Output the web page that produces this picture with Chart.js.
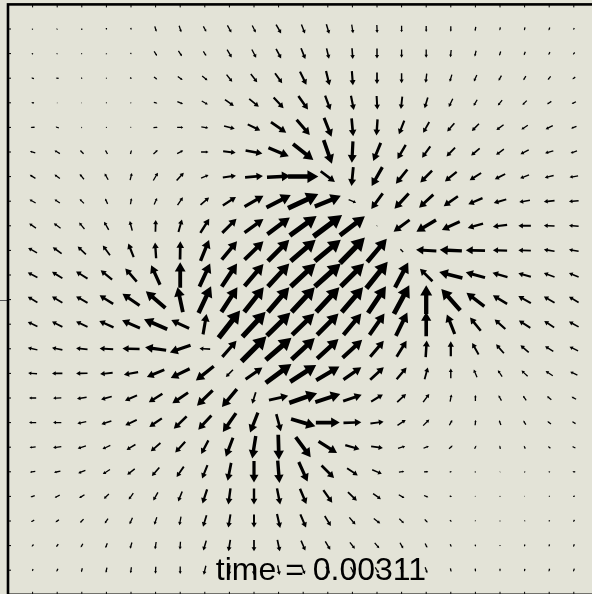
<!DOCTYPE html>
<html>
<head>
<meta charset="utf-8">
<script src="https://cdn.jsdelivr.net/npm/chart.js@4"></script>
<style>
  html, body { margin: 0; padding: 0; overflow: hidden; background: #e3e3d7; }
  #wrap { width: 600px; height: 600px; }
</style>
</head>
<body>
<div id="wrap"><canvas id="quiver" width="600" height="600"></canvas></div>
<script>
// grid positions (columns left->right, rows top->bottom)
const gridX = [0,1,2,3,4,5,6,7,8,9,10,11,12,13,14,15,16,17,18,19,20,21,22];
const gridY = [22,21,20,19,18,17,16,15,14,13,12,11,10,9,8,7,6,5,4,3,2,1,0];

// horizontal component, one row per grid row (top row first)
const U = [
  [1,1,0.3,0,0.3,1.5,2,2.7,3.7,3.3,4.7,3.3,2.7,1.3,0.3,0,0,0,-0.7,-0.7,-0.7,-1,-1],
  [1.3,1,1,0,1,2.7,3.3,2.7,4.3,4,4.7,4,2.3,0.7,0,0,0,-0.7,-1.3,-1.3,-1.3,-1.3,-1.7],
  [-2.5,-2.7,1.5,0.3,1.7,3,4.5,5,5.3,6,6.7,6,3.3,1,0,0,-1,-2,-2.7,-2.7,-2.3,-2.7,-2.7],
  [-2.7,0.5,0.5,0.3,1,3.3,5.3,5.7,8.3,9,9.3,9,5,2.7,0.7,-1.3,-3,-3.7,-3.3,-4,-4,-4,-4],
  [-3.7,-3,1,0.3,1,4,5.7,6.5,10,11.7,14.3,12.3,7,1.5,-1,-5,-5.7,-6.7,-6.7,-6.7,-6,-6.7,-5],
  [-5,-5,-3.3,-2,1,4,5.7,7,11.7,15.7,19,19,7.7,-1,-7,-7.7,-7.7,-8,-8,-7.3,-7.7,-7.7,-6],
  [-5.3,-5,-4,-3.3,1.7,4.3,6.7,7,12.3,16.7,21.7,28.3,13.3,-1.7,-10,-10.7,-11,-11,-10.7,-9.7,-8.3,-8.3,-8],
  [-5.7,-5,-4,-2.3,1,2.7,5,8,12.3,17.7,22.7,28.3,24.3,7,-10.7,-13.3,-13.3,-13.3,-13.3,-11.7,-10,-10,-9],
  [-6.3,-6.3,-5,-4.3,-2.3,0.3,3.3,8.3,13.3,17.7,21,25,26.7,23.3,0.5,-15,-18.3,-16.7,-14.3,-13.3,-11.7,-10,-9],
  [-8.3,-8.3,-7.7,-6.7,-5,-1,0.3,8,14.3,17.7,20,23.3,24.3,23.3,18.3,-3,-19,-20.7,-18,-13.3,-11.7,-10,-9],
  [-9,-9.7,-10.7,-10.7,-10.7,-8.3,0,10,14.3,17.7,20,23.3,24.3,21.7,20,12.3,-11.7,-21.7,-18,-14,-11.7,-10,-9],
  [-9,-9.7,-10.7,-12.7,-16,-18.3,-5,11.7,15,18.3,20,21.7,21.7,20,16.7,14.3,0,-17.7,-16.7,-13.3,-11.7,-10,-9],
  [-9,-9.7,-10.7,-13.3,-16.7,-21.7,-16.7,3.3,20,21.7,22,20.7,20,16.7,14,10.7,0,-7.3,-10,-10,-10.7,-9.3,-9],
  [-9,-9.7,-10.7,-12.7,-16,-19.7,-19.3,-10,13.3,23.3,24,21.7,20,18.3,12.7,9.3,1,0,-6,-7.3,-7.7,-7.7,-8],
  [-8.3,-9.7,-10.7,-11.7,-13.3,-16.3,-17.7,-16.7,-6.7,15.7,24,24.3,21.7,16.7,12.7,9.3,3,0,-3,-4,-5.7,-6.7,-6.7],
  [-6.7,-7.7,-9,-10,-11.3,-12.7,-14.7,-14.7,-14,-3.3,18,26,23.3,17.3,11,8.3,5.7,1.3,0,-2.7,-3,-4,-4.3],
  [-6.7,-7.7,-8.3,-9.3,-10.7,-11.7,-12,-12.3,-12.3,-7.3,4.3,22.7,22.3,16.7,12.3,7.7,5.7,2.7,0.5,-1.7,-2.3,-3.3,-3.3],
  [-5.7,-7.7,-7.7,-7.3,-8.3,-9,-9.3,-6.7,-6.7,-3.3,0.7,14,17.3,13.3,11,6.7,5,3.3,1.5,-0.7,-1.3,-2.3,-3],
  [-5,-6,-6.7,-6.7,-7,-7,-6.7,-5,-3.3,0,1.7,8.3,11.7,10,9,5,4,2,1,0.3,-0.7,-1.3,-2.7],
  [-4,-4.7,-5,-4.7,-4.3,-4.3,-3.7,-4.3,-2,0,3,6,8.3,8.3,7.3,5.3,4,2,0.5,0.3,-0.5,-1,-1.7],
  [-3,-3.3,-3.3,-3,-2.7,-2.3,-1.5,-3.3,-2,0,3,5.3,5.7,5.7,6,4.3,2.7,1.5,0.3,0,-0.5,-0.7,-1.3],
  [-1.7,-2,-2,-1.7,-1.7,-1,-0.5,-2.7,-1.7,0,2.3,4,4.7,4.7,4.3,3,2,1,0.3,0,-0.5,-0.5,-1],
  [-1,-1.3,-1,-1,-0.7,-0.3,0,-2,-1,0,1.7,3.3,3.7,3.3,3.3,2.5,2,0.7,0.3,0,-0.5,-0.7,-1]
];

// vertical component (up is positive), same layout
const V = [
  [1,0.7,1.7,-1.7,-2,-5,-6,-5,-6.7,-6.7,-8.3,-8.3,-9,-8,-7.3,-6,-5.7,-5,-4,-3,-3,-2.7,-1.7],
  [1,0.7,0.5,1.3,-1,-4.3,-5,-4.3,-7.3,-7.7,-9,-10,-9.7,-10,-9.3,-7.7,-7.7,-6.7,-5.3,-4,-3.3,-2.7,-2],
  [0.7,0.5,0,0,-1,-2.3,-3.3,-4,-6.7,-7.7,-9.3,-12.3,-13.3,-13.3,-10.7,-9.3,-8.7,-6.7,-6,-4.7,-4,-3.3,-2],
  [0.3,0,0,0,0,-0.7,-2.3,-3.3,-6,-7.3,-10,-12.7,-13.3,-13.3,-12.7,-11.7,-10,-7.7,-5.7,-5,-4,-2.7,-2],
  [-0.3,1,0.3,0,0,0.3,0,-1,-2.7,-5.7,-10,-14.3,-17.7,-16.7,-15,-12.7,-10,-7.7,-6.7,-5,-4,-3.3,-2],
  [1.5,3,3.3,3.7,3.7,3.7,3,0,-1.3,-3,-8,-15,-22,-20,-17,-13.3,-10.7,-8.3,-6.7,-5.3,-4,-2.3,-2],
  [3.3,3.7,5,6,6.7,7.3,7.3,3,1.7,1.3,1,0,-10,-17.7,-17.7,-13.3,-11,-9,-6.7,-5,-3.3,-2,-1.3],
  [3.3,3.3,4,5,5.7,6,7.3,7,8,10,11.7,13.3,10,-3,-14.7,-14.3,-12.3,-9.3,-5.7,-3.5,-1.7,-1,-0.7],
  [4.3,4.7,6,7.7,9,11,11.7,13.3,13.3,12.7,15.7,18.3,20,17.7,0.5,-11,-11,-7.7,-4,-1.7,0,0.5,0.7],
  [4.7,6,7.3,9,12.7,14.7,17,19.5,17.3,17.3,20,20,20,24,21.7,3,1,1,0.5,0.3,0.5,1.7,1.5],
  [4.7,6,6.7,8.7,12.3,18.3,24,21.7,21.7,20.7,21.7,21.7,21.7,21.7,25,23.3,11.7,5.7,5,4,3.3,3.7,3.7],
  [5.3,6,6,8,11,15.7,23.3,25,23.3,23.3,23.3,23.3,23.3,23.3,25,26.7,26.7,20,12.7,8,6.7,6,5.3],
  [4.3,5,5,6,7.3,9.3,7.7,19,25.7,23.3,21.7,20,20,20,20,21.7,22.7,18.3,12.3,9,6.7,6,5],
  [2,2,1,0.7,0.5,2.7,-6.7,0.7,15,23.3,20.7,20,18.3,16.7,15,15,15.7,14,10.7,8.3,6.7,5,4],
  [0.7,0,-0.3,-1.3,-2.3,-6.7,-8.7,-13.3,-6.7,11,17.7,15.7,12.7,11.7,11.7,11,11,9,7.3,6,5.3,4.3,3.3],
  [0,-0.3,-1.3,-2.7,-5,-8,-10,-14.3,-16.7,-10.7,4,9,7.7,6,6.7,7.7,7.7,6.7,5.7,5,4.3,3.3,2.3],
  [0,0,-1.7,-3,-5,-8,-11.7,-13.3,-17.7,-18.7,-16,-6.7,0,0.5,1.5,5,5.7,5,5,4.3,3.7,2.7,2],
  [-0.5,-1,-2.3,-3.5,-5,-7.7,-10,-12.7,-17.7,-21,-23.3,-19,-10.7,-4,-1.7,2,2,3,3,3,2.7,2,1.5],
  [-0.7,-1.3,-2.7,-4.3,-5.5,-8,-9.7,-12.3,-16.7,-20,-21,-18.3,-11.7,-6.7,-3.7,0.5,0.3,0.5,1,0.5,1,1,0.3],
  [-1.3,-2.3,-3,-4.5,-6,-7.7,-9.3,-13.3,-15,-15,-15,-14.3,-11.7,-8,-5.3,-3,-1.7,-1,-0.5,0,0,-0.7,-1],
  [-1.7,-2.5,-3.5,-4.5,-6,-7,-8,-10.7,-12.3,-12.3,-13,-12.3,-9.3,-6.7,-4.7,-4.3,-3,-1.7,-1,-0.3,-1,-1.5,-2],
  [-2,-2.7,-3.5,-4.5,-5.7,-6.7,-7.3,-9.3,-10.7,-10.7,-10.7,-9.3,-7.7,-6,-5,-5.3,-4,-2.7,-2,-1.3,-2,-2.3,-2.5],
  [-2,-2.7,-3.7,-4.7,-5.5,-6.5,-7,-8.3,-9.3,-9.3,-9,-7.7,-6.7,-6,-5.3,-6,-5.5,-3.3,-3,-2.5,-2.5,-2.7,-3]
];

const timeLabel = 'time = 0.00311';
const labelPos = [7.45, -0.4];
const midTickRow = 11;            // the single outside tick on the left axis
const arrowScale = 1.07 / 24.6;   // field units -> grid units
const bgColor = '#e3e3d7';

const points = [];
gridY.forEach((y, r) => gridX.forEach((x, c) => points.push({ x, y, u: U[r][c], v: V[r][c] })));

function drawArrow(ctx, x0, y0, x1, y1) {
  const dx = x1 - x0, dy = y1 - y0;
  const L = Math.hypot(dx, dy);
  if (L < 0.4) {
    ctx.fillRect((x0 + x1) / 2 - 0.5, (y0 + y1) / 2 - 0.5, 1, 1);
    return;
  }
  const ux = dx / L, uy = dy / L, px = -uy, py = ux;
  const hl = 0.36 * L, hw = 0.21 * L, sw = Math.max(0.65, 0.075 * L);
  const nx = x1 - ux * hl, ny = y1 - uy * hl;
  ctx.beginPath();
  ctx.moveTo(x0 + px * sw, y0 + py * sw);
  ctx.lineTo(nx + px * sw, ny + py * sw);
  ctx.lineTo(nx + px * hw, ny + py * hw);
  ctx.lineTo(x1, y1);
  ctx.lineTo(nx - px * hw, ny - py * hw);
  ctx.lineTo(nx - px * sw, ny - py * sw);
  ctx.lineTo(x0 - px * sw, y0 - py * sw);
  ctx.closePath();
  ctx.fill();
}

const quiverPlugin = {
  id: 'quiver',
  beforeDraw(chart) {
    const ctx = chart.ctx;
    ctx.save();
    ctx.fillStyle = bgColor;
    ctx.fillRect(0, 0, chart.width, chart.height);
    ctx.restore();
  },
  afterDatasetsDraw(chart) {
    const ctx = chart.ctx, xs = chart.scales.x, ys = chart.scales.y, area = chart.chartArea;
    ctx.save();
    ctx.fillStyle = '#000';
    points.forEach(p => {
      const hx = p.u * arrowScale / 2, hy = p.v * arrowScale / 2;
      drawArrow(ctx,
        xs.getPixelForValue(p.x - hx), ys.getPixelForValue(p.y - hy),
        xs.getPixelForValue(p.x + hx), ys.getPixelForValue(p.y + hy));
    });

    // frame and small inward ticks
    ctx.strokeStyle = '#000';
    ctx.lineWidth = 1;
    ctx.beginPath();
    gridX.forEach(x => {
      const px = xs.getPixelForValue(x);
      ctx.moveTo(px, area.top); ctx.lineTo(px, area.top + 3);
      ctx.moveTo(px, area.bottom); ctx.lineTo(px, area.bottom - 3);
    });
    gridY.forEach(y => {
      const py = ys.getPixelForValue(y);
      ctx.moveTo(area.left, py); ctx.lineTo(area.left + 3, py);
    });
    ctx.stroke();

    ctx.strokeStyle = '#555';
    ctx.beginPath();
    const my = Math.round(ys.getPixelForValue(gridY[midTickRow])) + 0.5;
    ctx.moveTo(0, my); ctx.lineTo(area.left, my);
    ctx.stroke();

    ctx.strokeStyle = '#000';
    ctx.lineWidth = 2.6;
    ctx.strokeRect(area.left, area.top, area.right - area.left, area.bottom - area.top);

    ctx.fillStyle = '#000';
    ctx.font = '32px "Liberation Sans", Arial, sans-serif';
    ctx.textAlign = 'left';
    ctx.textBaseline = 'alphabetic';
    ctx.fillText(timeLabel, xs.getPixelForValue(labelPos[0]), ys.getPixelForValue(labelPos[1]));
    ctx.restore();
  }
};

new Chart(document.getElementById('quiver').getContext('2d'), {
  type: 'scatter',
  data: {
    datasets: [{
      data: points.map(p => ({ x: p.x, y: p.y })),
      pointRadius: 0,
      pointHoverRadius: 0
    }]
  },
  options: {
    responsive: false,
    animation: false,
    layout: { padding: { left: 8, top: 4.4, right: 1.6, bottom: 5.2 } },
    scales: {
      x: { type: 'linear', min: -1, max: 23, display: false },
      y: { type: 'linear', min: -1, max: 23, display: false }
    },
    plugins: {
      legend: { display: false },
      tooltip: { enabled: false }
    },
    events: []
  },
  plugins: [quiverPlugin]
});
</script>
</body>
</html>
